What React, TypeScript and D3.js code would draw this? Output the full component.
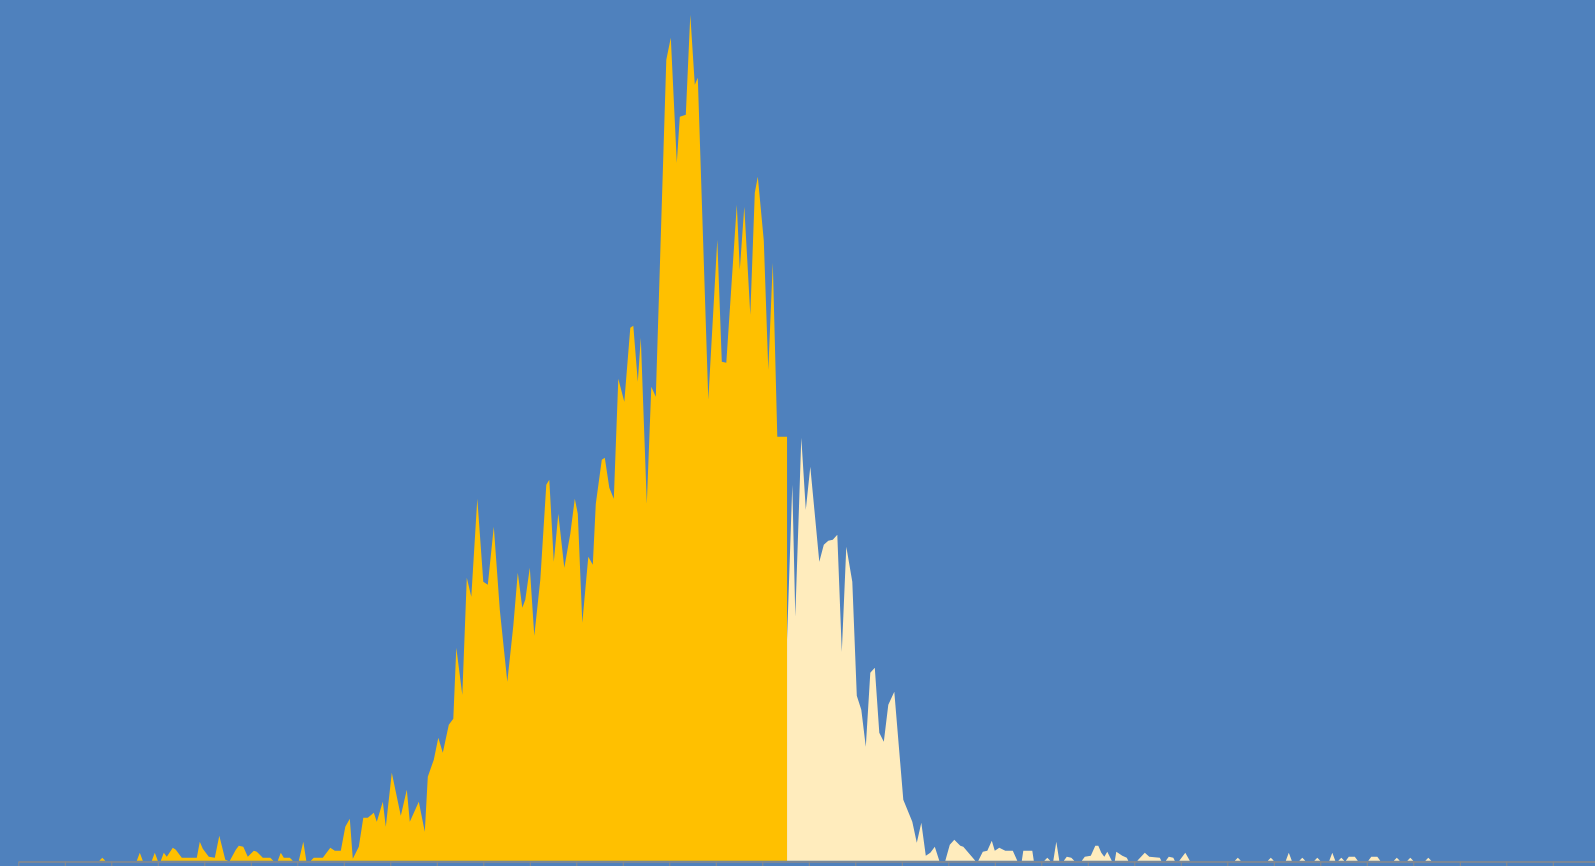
import React, { useEffect, useRef } from "react";
import * as d3 from "d3";

// Day index (x) and count (y) for the highlighted (earlier) period
const goldDays = [
  54, 56, 58, 79, 81, 83, 89, 91, 93, 95, 97, 99, 103, 105, 109, 119, 121, 123, 127, 131, 134, 138, 140,
  141, 145, 147, 150, 153, 157, 159, 163, 168, 170, 173, 175, 177, 181, 183, 187, 190, 192,
  195, 197, 203, 208, 211, 215, 218, 221, 223, 227, 230, 233, 237, 239, 243, 245, 249, 255, 259, 261,
  267, 271, 273, 277, 280, 283, 287, 290, 292, 296, 299, 302, 306, 310, 313, 317, 321, 326,
  330, 333, 336, 338, 341, 344, 348, 352, 354, 357, 360, 364, 368, 371, 373, 376, 380, 383, 385, 389,
  391, 394, 397, 400, 404, 408, 410, 413, 415, 419, 422, 425, 432, 435, 439, 441, 445, 448, 451, 453,
  460, 466, 469, 472, 479, 481, 484, 488, 491, 493, 497, 500, 503, 506, 512.5,
];
const goldValues = [
  0, 3, 0, 0, 8, 0, 0, 8, 0, 0, 8, 4, 13, 11, 3, 3, 19, 12, 4, 3, 25, 1, 0,
  0, 11, 15, 14, 4, 10, 9, 3, 3, 0, 0, 8, 3, 3, 0, 0, 19, 0,
  0, 3, 3, 13, 10, 10, 34, 42, 2, 14, 43, 43, 48, 39, 59, 34, 88, 45, 71, 39,
  59, 29, 84, 101, 123, 108, 136, 142, 213, 166, 283, 264, 362, 279, 276, 334, 251, 179,
  235, 288, 253, 261, 293, 225, 281, 376, 381, 299, 347, 293, 327, 362, 347, 238, 304, 296, 357, 401,
  403, 373, 362, 482, 459, 533, 535, 479, 523, 357, 474, 464, 801, 823, 698, 744, 746, 846, 776, 783,
  461, 621, 499, 498, 656, 591, 654, 546, 668, 684, 620, 491, 598, 424, 424,
];

// Day index (x) and count (y) for the later period
const creamDays = [
  512.5, 516, 518, 522, 525, 528, 534, 537, 540, 543, 546, 549, 552, 556, 559, 562, 565, 568, 571, 574,
  577, 580, 584, 590, 596, 599, 602, 605, 608, 611, 614, 618, 621, 624, 628, 630, 638, 640, 643, 646,
  649, 651, 654, 658, 663, 666, 669, 670, 676, 677, 684, 686, 688, 690, 692, 694, 697, 699, 702, 704,
  709, 711, 715, 718, 720, 722, 724, 726, 729, 731, 732, 736, 739, 740, 746, 751, 754, 761, 762, 765,
  767, 770, 771, 774, 778, 781, 811, 813, 815, 833, 835, 837, 845, 847, 849, 854, 856, 858, 864, 866,
  868, 874, 876, 878, 880, 882, 884, 885, 887, 891, 893, 900, 902, 906, 908, 917, 919, 921, 926, 928,
  930, 938, 940, 942,
];
const creamValues = [
  221, 376, 244, 423, 351, 394, 299, 316, 320, 321, 326, 209, 314, 279, 165, 151, 114, 188, 193, 128,
  119, 156, 169, 61, 39, 18, 38, 5, 8, 14, 0, 0, 16, 21, 15, 14, 0, 0, 9, 10,
  20, 10, 13, 10, 10, 0, 0, 10, 10, 0, 0, 3, 0, 0, 19, 0, 0, 4, 3, 0,
  0, 4, 5, 15, 15, 8, 4, 9, 0, 0, 9, 5, 3, 0, 0, 8, 4, 3, 0, 0,
  4, 3, 0, 0, 8, 0, 0, 3, 0, 0, 3, 0, 0, 8, 0, 0, 3, 0, 0, 3,
  0, 0, 8, 0, 0, 3, 0, 0, 4, 4, 0, 0, 4, 4, 0, 0, 3, 0, 0, 3,
  0, 0, 3, 0,
];

// Tick positions (every 31 days)
const tickDays = d3.range(0, 1060, 31);

const W = 1595;
const H = 866;

export default function App() {
  const axisRef = useRef<SVGGElement>(null);

  const x = d3.scaleLinear().domain([0, 1054]).range([18.3, 18.3 + 1.5 * 1054]);
  const y = d3.scaleLinear().domain([0, 846]).range([860.7, 14.7]);

  const gold = goldDays.map((d, i) => ({ day: d, value: goldValues[i] }));
  const cream = creamDays.map((d, i) => ({ day: d, value: creamValues[i] }));

  const area = d3
    .area<{ day: number; value: number }>()
    .x((d) => x(d.day))
    .y0(y(0))
    .y1((d) => y(d.value))
    .curve(d3.curveLinear);

  useEffect(() => {
    if (!axisRef.current) return;
    const g = d3.select(axisRef.current);
    g.call(
      d3
        .axisBottom(x)
        .tickValues(tickDays)
        .tickSize(6)
        .tickSizeOuter(0)
        .tickFormat(() => "")
    );
    g.selectAll("text").remove();
    g.select(".domain").attr("stroke", "#8a8a8a").attr("stroke-width", 1.5);
    g.selectAll(".tick line").attr("stroke", "#8a8a8a").attr("stroke-width", 1);
  }, []);

  return (
    <>
      <style>{"body{margin:0;overflow:hidden;}"}</style>
      <svg width={W} height={H} style={{ display: "block", background: "#4f81bd" }}>
        <rect x={0} y={0} width={W} height={H} fill="#4f81bd" />
        <path d={area(gold) || ""} fill="#ffc000" />
        <path d={area(cream) || ""} fill="#ffecbd" />
        <g ref={axisRef} transform="translate(0,861.5)" />
      </svg>
    </>
  );
}
